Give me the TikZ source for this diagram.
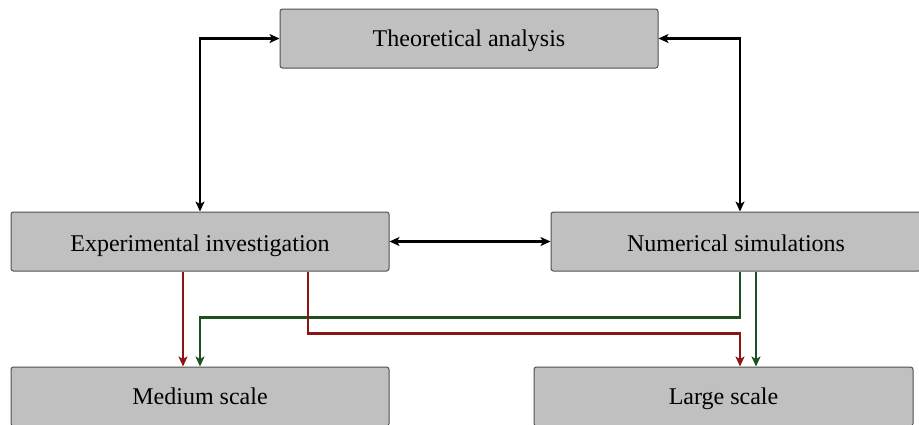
\documentclass[tikz,border=0pt]{standalone}
\usepackage{fontspec}
\setmainfont{Liberation Serif}
\usetikzlibrary{arrows.meta}
\definecolor{boxfill}{HTML}{C0C0C0}
\definecolor{boxborder}{HTML}{505050}
\definecolor{darkred}{HTML}{8B1414}
\definecolor{darkgreen}{HTML}{1E501E}
\tikzset{
  box/.style={draw=boxborder, fill=boxfill, rounded corners=2.5pt, minimum width=378pt,
    minimum height=59pt, line width=1pt, inner sep=0pt, text height=#1, text depth=0pt,
    font=\fontsize{24}{28}\selectfont},
  box/.default=20pt,
  tip/.tip={Stealth[length=10pt,width=9pt,inset=2.5pt]},
  link/.style={line width=2.4pt, tip-tip},
  flow/.style={line width=2.4pt, -tip},
}
\begin{document}
\begin{tikzpicture}[x=1pt,y=-1pt]
\useasboundingbox (0,0) rectangle (919,424);
\clip (0,0) rectangle (919,424);
\node[box=16pt] (theo) at (469,38.5) {Theoretical analysis};
\node[box] (exp) at (200,241.5) {Experimental investigation};
\node[box, minimum width=370pt] (num) at (736,241.5) {Numerical simulations};
\node[box=15pt] (med) at (200,396.5) {Medium scale};
\node[box=15pt, minimum width=379pt] (lar) at (723.5,396.5) {Large scale};
\draw[link] (theo.west) -| (exp.north);
\draw[link] (theo.east) -| ([xshift=4pt]num.north);
\draw[link] (exp.east) -- (num.west);
\draw[flow, darkred] ([xshift=-17pt]exp.south) -- ([xshift=-17pt]med.north);
\draw[flow, darkgreen] ([xshift=4pt]num.south) -- ++(0,46) -| (med.north);
\draw[flow, darkred] ([xshift=108pt]exp.south) -- ++(0,62) -| ([xshift=16.5pt]lar.north);
\draw[flow, darkgreen] ([xshift=20pt]num.south) -- ([xshift=32.5pt]lar.north);
\end{tikzpicture}
\end{document}
